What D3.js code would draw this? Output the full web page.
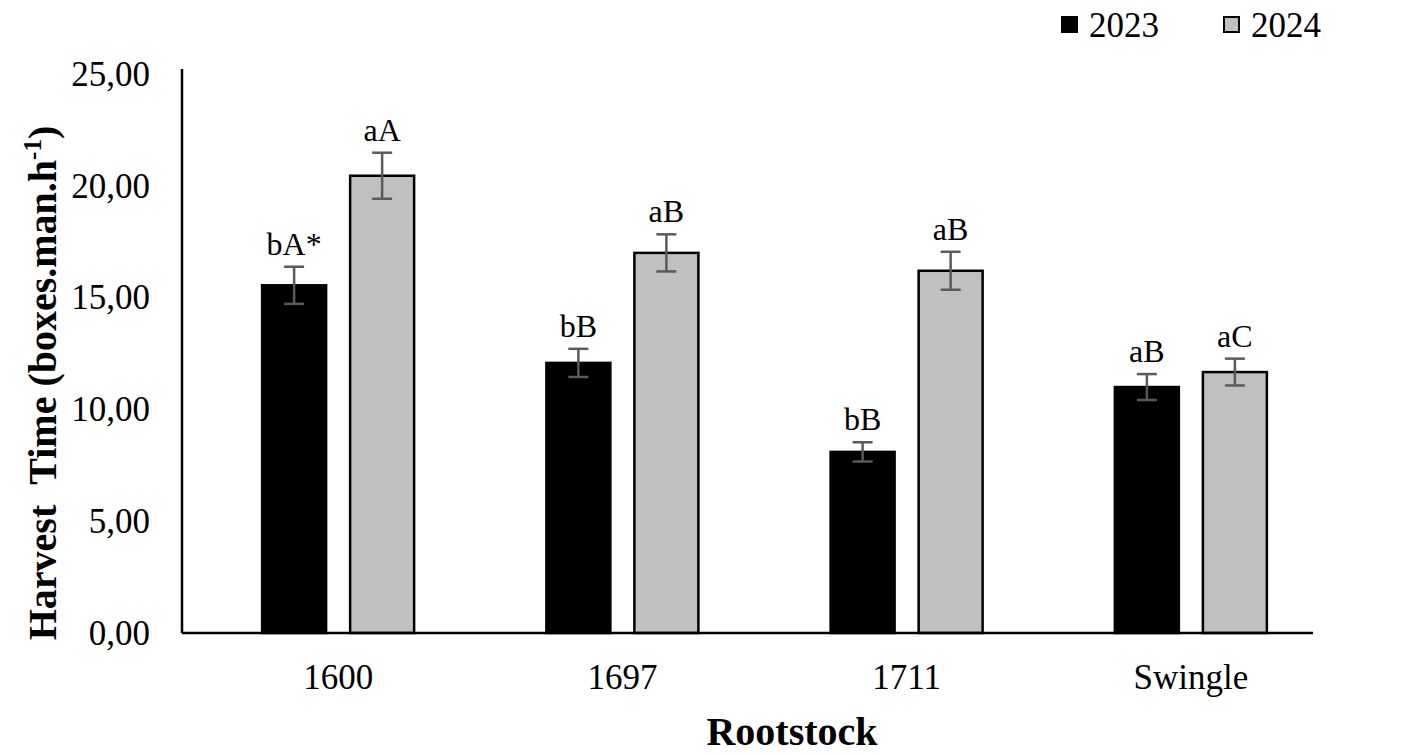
<!DOCTYPE html>
<html>
<head>
<meta charset="utf-8">
<script src="https://cdn.jsdelivr.net/npm/d3@7"></script>
<style>
  body { margin: 0; background: #fff; }
  text { font-family: "Liberation Serif", "Times New Roman", serif; fill: #000; }
</style>
</head>
<body>
<svg id="chart" width="1417" height="755"></svg>
<script>
const rootstocks = ['1600', '1697', '1711', 'Swingle']
const years = ['2023', '2024']
const values2023 = [15.55, 12.08, 8.10, 11.00]
const values2024 = [20.45, 17.00, 16.20, 11.67]
const err2023 = [0.83, 0.63, 0.43, 0.58]
const err2024 = [1.03, 0.83, 0.85, 0.60]
const letters2023 = ['bA*', 'bB', 'bB', 'aB']
const letters2024 = ['aA', 'aB', 'aB', 'aC']
const yTicks = [0, 5, 10, 15, 20, 25]

const svg = d3.select('#chart')

const y = d3.scaleLinear().domain([0, 25]).range([633, 74])
const x = d3.scaleBand().domain(rootstocks).range([196, 1333])
const xYear = d3.scaleBand().domain(years).range([-76, 76]).paddingInner(0.273)

const fills = { '2023': '#000', '2024': '#c0c0c0' }

const rows = []
rootstocks.forEach((r, i) => {
    rows.push({ r, year: '2023', v: values2023[i], e: err2023[i], lab: letters2023[i] })
    rows.push({ r, year: '2024', v: values2024[i], e: err2024[i], lab: letters2024[i] })
})

const cx = d => x(d.r) + x.bandwidth() / 2
const mid = d => cx(d) + xYear(d.year) + xYear.bandwidth() / 2

// bars
svg.append('g').selectAll('rect')
    .data(rows)
    .join('rect')
    .attr('x', d => cx(d) + xYear(d.year))
    .attr('y', d => y(d.v))
    .attr('width', xYear.bandwidth())
    .attr('height', d => y(0) - y(d.v))
    .attr('fill', d => fills[d.year])
    .attr('stroke', '#000')
    .attr('stroke-width', 2.5)

// error bars
const eb = svg.append('g').attr('stroke', '#5a5a5a').attr('stroke-width', 2.5)
rows.forEach(d => {
    const mx = mid(d)
    eb.append('line').attr('x1', mx).attr('x2', mx).attr('y1', y(d.v + d.e)).attr('y2', y(d.v - d.e))
    eb.append('line').attr('x1', mx - 10).attr('x2', mx + 10).attr('y1', y(d.v + d.e)).attr('y2', y(d.v + d.e))
    eb.append('line').attr('x1', mx - 10).attr('x2', mx + 10).attr('y1', y(d.v - d.e)).attr('y2', y(d.v - d.e))
})

// letters
svg.append('g').selectAll('text')
    .data(rows)
    .join('text')
    .attr('x', d => mid(d))
    .attr('y', d => y(d.v + d.e) - 12)
    .attr('text-anchor', 'middle')
    .attr('font-size', 32)
    .text(d => d.lab)

// y axis
const yAxis = d3.axisLeft(y)
    .tickValues(yTicks)
    .tickSize(0)
    .tickPadding(32)
    .tickFormat(d => d3.format('.2f')(d).replace('.', ','))

const gy = svg.append('g')
    .attr('transform', 'translate(182,0)')
    .call(yAxis)
gy.select('.domain').attr('stroke', '#000').attr('stroke-width', 2.5).attr('d', 'M0,69V633')
gy.selectAll('text').attr('font-size', 35).style('font-family', '"Liberation Serif", serif')

// x axis
svg.append('line')
    .attr('x1', 182).attr('x2', 1313)
    .attr('y1', y(0)).attr('y2', y(0))
    .attr('stroke', '#000').attr('stroke-width', 2.5)

svg.append('g').selectAll('text')
    .data(rootstocks)
    .join('text')
    .attr('x', d => x(d) + x.bandwidth() / 2)
    .attr('y', 689)
    .attr('text-anchor', 'middle')
    .attr('font-size', 35)
    .text(d => d)

// axis titles
svg.append('text')
    .attr('x', 792).attr('y', 745)
    .attr('text-anchor', 'middle')
    .attr('font-size', 40)
    .attr('font-weight', 'bold')
    .text('Rootstock')

const yt = svg.append('text')
    .attr('transform', 'translate(56,383) rotate(-90)')
    .attr('text-anchor', 'middle')
    .attr('font-size', 40)
    .attr('font-weight', 'bold')
    .style('white-space', 'pre')
yt.append('tspan').text('Harvest\u00a0\u00a0Time (boxes.man.h')
yt.append('tspan').attr('font-size', 25).attr('dy', -15).text('-1')
yt.append('tspan').attr('dy', 15).text(')')

// legend
const legend = svg.append('g')
const legItems = [{ year: '2023', x: 1062 }, { year: '2024', x: 1224 }]
legItems.forEach(l => {
    legend.append('rect')
        .attr('x', l.x).attr('y', 17)
        .attr('width', 15).attr('height', 15)
        .attr('fill', fills[l.year])
        .attr('stroke', '#000').attr('stroke-width', 2)
    legend.append('text')
        .attr('x', l.x + 27).attr('y', 37)
        .attr('font-size', 35)
        .text(l.year)
})
</script>
</body>
</html>
